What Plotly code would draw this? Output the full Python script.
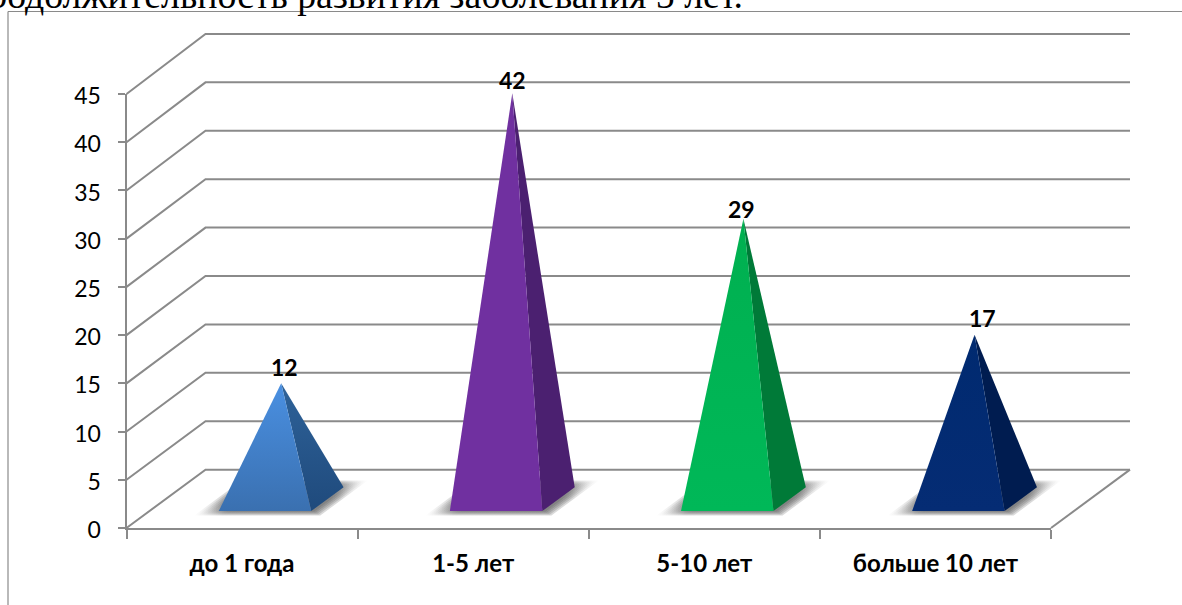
import plotly.graph_objects as go

# Chart content
categories = ["до 1 года", "1-5 лет", "5-10 лет", "больше 10 лет"]
values = [12, 42, 29, 17]
y_ticks = [0, 5, 10, 15, 20, 25, 30, 35, 40, 45]
x_tick_edges = [0, 1, 2, 3, 4]
heading = "продолжительность развития заболевания 5 лет."

front_colors = [
    ["#4A90E2", "#3A70B0"],
    ["#7030A0", "#7030A0"],
    ["#00B050", "#00B858"],
    ["#002A70", "#052C74"],
]
side_colors = [
    ["#2E6299", "#1F4A7C"],
    ["#4B2070", "#4B2070"],
    ["#007A38", "#007A38"],
    ["#001C50", "#001C50"],
]
label_shift_x = [3, 0, -2, 8]
label_shift_y = [16, 13, 10, 17]

# Page geometry of the plotting box
W, H = 1182, 605
X0, X4 = 126.5, 1051.0
Y0, Y45 = 528.0, 94.0
px_per_cat = (X4 - X0) / 4
px_per_val = (Y0 - Y45) / 45

# Oblique projection: depth 0 is the front edge, depth 1 the back wall
DEPTH_X = 79 / px_per_cat
DEPTH_Y = 6.05
BACK_STRETCH = 1.004


def project(cat, val, depth):
    stretch = 1 + (BACK_STRETCH - 1) * depth
    return cat + depth * DEPTH_X, val * stretch + depth * DEPTH_Y


def polygon(points):
    pts = [project(*p) for p in points]
    pts.append(pts[0])
    return [p[0] for p in pts], [p[1] for p in pts]


fig = go.Figure()

# The front-plane axes need a trace of their own to be drawn
fig.add_trace(go.Scatter(x=x_tick_edges, y=[0] * len(x_tick_edges), mode="lines",
                         line=dict(width=0), hoverinfo="skip", xaxis="x", yaxis="y"))

# Wall grid: one diagonal up the side wall and one run along the back wall per tick
gx, gy = [], []
for v in y_ticks:
    for p in [(0, v, 0), (0, v, 1), (4, v, 1)]:
        x, y = project(*p)
        gx.append(x)
        gy.append(y)
    gx.append(None)
    gy.append(None)
for p in [(4, 0, 1), (4, 0, 0)]:
    x, y = project(*p)
    gx.append(x)
    gy.append(y)
fig.add_trace(go.Scatter(x=gx, y=gy, mode="lines", xaxis="x2", yaxis="y2",
                         line=dict(color="#8A8A8A", width=2), hoverinfo="skip"))

HALF = 0.2
NEAR, FAR, MID = 0.29, 0.70, 0.495

for i, val in enumerate(values):
    c = i + 0.5

    # Soft floor shadow, built up from nested translucent sheets
    for step in range(5):
        inset = step * 0.012
        dn = 0.215 + inset * 1.4
        df = 0.815 - inset * 1.4
        left = c - 0.28 + inset
        right = c + 0.265 - inset
        sx, sy = polygon([(left, 0, dn), (right, 0, dn), (right, 0, df), (left, 0, df)])
        fig.add_trace(go.Scatter(
            x=sx, y=sy, mode="lines", fill="toself", xaxis="x2", yaxis="y2",
            line=dict(width=0), hoverinfo="skip",
            fillgradient=dict(type="horizontal", colorscale=[
                [0, "rgba(70,70,70,0)"], [0.16, "rgba(70,70,70,0.2)"],
                [0.84, "rgba(70,70,70,0.2)"], [1, "rgba(70,70,70,0)"]]),
        ))

    apex = (c, val, MID)
    fl = (c - HALF, 0, NEAR)
    fr = (c + HALF, 0, NEAR)
    br = (c + HALF, 0, FAR)

    sx, sy = polygon([apex, fr, br])
    fig.add_trace(go.Scatter(
        x=sx, y=sy, mode="lines", fill="toself", xaxis="x2", yaxis="y2",
        line=dict(width=0), hoverinfo="skip",
        fillgradient=dict(type="vertical", colorscale=[[0, side_colors[i][1]], [1, side_colors[i][0]]]),
    ))
    fx, fy = polygon([apex, fl, fr])
    fig.add_trace(go.Scatter(
        x=fx, y=fy, mode="lines", fill="toself", xaxis="x2", yaxis="y2",
        line=dict(width=0), hoverinfo="skip",
        fillgradient=dict(type="vertical", colorscale=[[0, front_colors[i][1]], [1, front_colors[i][0]]]),
    ))

# Value labels sit just above each apex
annotations = []
for i, val in enumerate(values):
    x, y = project(i + 0.5, val, MID)
    annotations.append(dict(
        x=x, y=y, xref="x2", yref="y2", text=str(val), showarrow=False,
        xshift=label_shift_x[i], yshift=label_shift_y[i],
        font=dict(family="Lato", size=23, color="#000000", weight="bold"),
    ))

# Running text of the surrounding page, cut by the top edge
annotations.append(dict(
    x=745 / W, y=1 - 9 / H, xref="paper", yref="paper", xanchor="right", yanchor="bottom",
    yshift=-9, text=heading, showarrow=False,
    font=dict(family="Liberation Serif", size=37.8, color="#000000"),
))

axis_color = "#8A8A8A"
fig.update_layout(
    width=W, height=H, margin=dict(l=0, r=0, t=0, b=0, pad=0, autoexpand=False),
    paper_bgcolor="#FFFFFF", plot_bgcolor="rgba(0,0,0,0)", showlegend=False,
    hovermode=False, annotations=annotations,
    # Visible axes, confined to the front plane of the box
    xaxis=dict(
        domain=[X0 / W, X4 / W], range=[0, 4], showgrid=False, zeroline=False, automargin=False,
        showline=True, linecolor=axis_color, linewidth=2,
        tickmode="array", tickvals=[i + 0.5 for i in range(4)], ticktext=categories,
        ticks="outside", ticklen=13, tickcolor="rgba(0,0,0,0)",
        tickfont=dict(family="Lato", size=24, color="#000000", weight="bold"),
        minor=dict(tickmode="array", tickvals=x_tick_edges, ticks="outside", ticklen=9,
                   tickcolor=axis_color, tickwidth=2),
    ),
    yaxis=dict(
        domain=[1 - Y0 / H, 1 - Y45 / H], range=[0, 45], showgrid=False, zeroline=False, automargin=False,
        showline=True, linecolor=axis_color, linewidth=2,
        tickmode="array", tickvals=y_ticks,
        ticks="outside", ticklen=7, tickcolor=axis_color, tickwidth=2,
        tickfont=dict(family="Lato", size=23, color="#000000"),
        ticklabelstandoff=12, ticklabelshift=2,
    ),
    # Full-page axes in the same units, carrying the box and the pyramids
    xaxis2=dict(
        domain=[0, 1], anchor="y2", visible=False, automargin=False,
        range=[-X0 / px_per_cat, (W - X0) / px_per_cat],
    ),
    yaxis2=dict(
        domain=[0, 1], anchor="x2", visible=False, automargin=False,
        range=[-(H - Y0) / px_per_val, Y0 / px_per_val],
    ),
    # Frame of the embedded chart object
    shapes=[
        dict(type="line", xref="paper", yref="paper", x0=8 / W, x1=1, y0=1 - 11.5 / H, y1=1 - 11.5 / H,
             line=dict(color="#8A8A8A", width=1.2)),
        dict(type="line", xref="paper", yref="paper", x0=8 / W, x1=8 / W, y0=0, y1=1 - 11.5 / H,
             line=dict(color="#8A8A8A", width=1.2)),
    ],
)

fig.write_html("out.html")
